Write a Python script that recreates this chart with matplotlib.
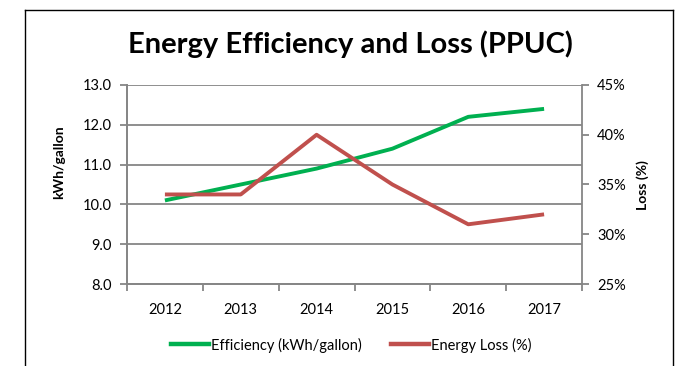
import matplotlib
matplotlib.use("Agg")
import matplotlib.pyplot as plt
from matplotlib.lines import Line2D
from matplotlib.ticker import FormatStrFormatter, FuncFormatter

# Data
years = ["2012", "2013", "2014", "2015", "2016", "2017"]
efficiency = [10.1, 10.5, 10.9, 11.4, 12.2, 12.4]      # kWh/gallon
energy_loss = [34, 34, 40, 35, 31, 32]                 # percent

title = "Energy Efficiency and Loss (PPUC)"
green = "#00B050"
red = "#C0504D"
grid_grey = "#868686"

plt.rcParams["font.family"] = ["Lato", "DejaVu Sans"]

W, H = 690, 366
fig = plt.figure(figsize=(W / 100, H / 100), dpi=100)

def fx(px):
    return px / W

def fy(py):
    return 1 - py / H

left, right, top, bottom = 127, 582, 85, 284
ax = fig.add_axes([fx(left), fy(bottom), fx(right - left), (bottom - top) / H])
ax2 = ax.twinx()

x = list(range(len(years)))
ax.plot(x, efficiency, color=green, lw=2.8, solid_capstyle="butt", zorder=3)
ax2.plot(x, energy_loss, color=red, lw=2.8, solid_capstyle="butt", zorder=3)

# Left axis
ax.set_ylim(8, 13)
ax.set_yticks([8, 9, 10, 11, 12, 13])
ax.yaxis.set_major_formatter(FormatStrFormatter("%.1f"))
ax.grid(axis="y", color=grid_grey, lw=1.3)
ax.set_axisbelow(True)

# Category axis: labels centred, tick marks on category boundaries
ax.set_xlim(-0.5, len(years) - 0.5)
ax.set_xticks(x)
ax.set_xticklabels(years)
ax.set_xticks([i - 0.5 for i in range(len(years) + 1)], minor=True)
ax.tick_params(axis="x", which="major", length=0, pad=14, labelsize=10.5)
ax.tick_params(axis="x", which="minor", length=5, width=1.3, color=grid_grey, direction="out")
ax.tick_params(axis="y", length=5, width=1.3, color=grid_grey, labelsize=10.5, pad=6)

# Right axis
ax2.set_ylim(25, 45)
ax2.set_yticks([25, 30, 35, 40, 45])
ax2.yaxis.set_major_formatter(FuncFormatter(lambda v, _: f"{v:.0f}%"))
ax2.tick_params(axis="y", length=5, width=1.3, color=grid_grey, labelsize=10.5, pad=6)

for a in (ax, ax2):
    a.spines["top"].set_visible(False)
    for s in ("left", "right", "bottom"):
        a.spines[s].set_color(grid_grey)
        a.spines[s].set_linewidth(1.3)
ax.spines["right"].set_visible(False)

# Titles and axis labels
fig.text(fx(350), fy(44), title, ha="center", va="center",
         fontsize=21, fontweight="bold")
fig.text(fx(59), fy(162), "kWh/gallon", rotation=90, ha="center", va="center",
         fontsize=10, fontweight="bold")
fig.text(fx(643), fy(185), "Loss (%)", rotation=90, ha="center", va="center",
         fontsize=10, fontweight="bold")

# Legend
handles = [Line2D([], [], color=green, lw=3.2),
           Line2D([], [], color=red, lw=3.2)]
fig.legend(handles, ["Efficiency (kWh/gallon)", "Energy Loss (%)"],
           loc="center", bbox_to_anchor=(fx(351), fy(345)), ncol=2,
           frameon=False, fontsize=10.5, handlelength=2.6, handletextpad=0.15,
           columnspacing=2.0, borderpad=0)

# Chart frame (open at the bottom)
frame_kw = dict(color="black", lw=1.0, transform=fig.transFigure)
fig.add_artist(Line2D([fx(25), fx(25)], [fy(9.5), 0], **frame_kw))
fig.add_artist(Line2D([fx(25), fx(673)], [fy(9.5), fy(9.5)], **frame_kw))
fig.add_artist(Line2D([fx(673), fx(673)], [fy(9.5), 0], **frame_kw))

fig.savefig("out.png", dpi=100)
